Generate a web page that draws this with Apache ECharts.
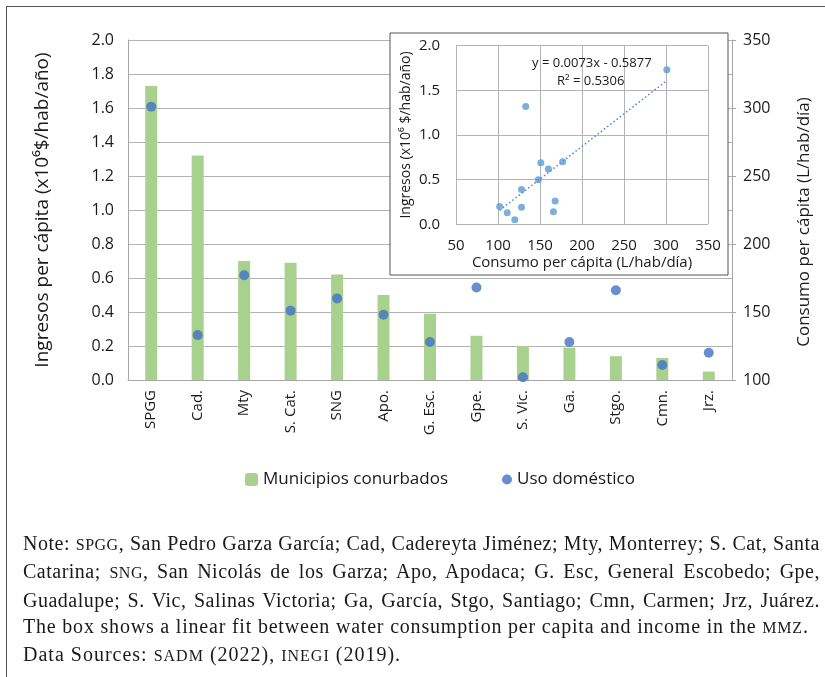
<!DOCTYPE html>
<html>
<head>
<meta charset="utf-8">
<script src="https://cdn.jsdelivr.net/npm/echarts@6/dist/echarts.min.js"></script>
<style>
  html, body { margin: 0; padding: 0; background: #fff; }
  #wrap { position: relative; width: 825px; height: 677px; overflow: hidden; }
  #chart { position: absolute; left: 0; top: 0; width: 825px; height: 677px; }
  #frame {
    position: absolute; left: 6px; top: 6px; width: 900px; height: 800px;
    border-left: 1.5px solid #555; border-top: 1.5px solid #555;
    pointer-events: none;
  }
  #note {
    position: absolute; left: 23px; top: 530px; width: 797px;
    font-family: "Liberation Serif", serif; font-size: 20px; color: #1a1a1a;
    line-height: 26.3px; letter-spacing: 0.5px;
  }
  #note .j { text-align: justify; text-align-last: justify; white-space: nowrap; }
  #note .l { white-space: nowrap; }
  .sc { font-size: 0.8em; }
</style>
</head>
<body>
<div id="wrap">
  <div id="chart"></div>
  <div id="frame"></div>
  <div id="note">
    <div class="j">Note: <span class="sc">SPGG</span>, San Pedro Garza García; Cad, Cadereyta Jiménez; Mty, Monterrey; S. Cat, Santa</div>
    <div class="j">Catarina; <span class="sc">SNG</span>, San Nicolás de los Garza; Apo, Apodaca; G. Esc, General Escobedo; Gpe,</div>
    <div class="j">Guadalupe; S. Vic, Salinas Victoria; Ga, García, Stgo, Santiago; Cmn, Carmen; Jrz, Juárez.</div>
    <div class="l" style="letter-spacing: 0.8px">The box shows a linear fit between water consumption per capita and income in the <span class="sc">MMZ</span>.</div>
    <div class="l" style="letter-spacing: 1px">Data Sources: <span class="sc">SADM</span> (2022), <span class="sc">INEGI</span> (2019).</div>
  </div>
</div>
<script>
// municipios (orden del gráfico)
const municipios = ["SPGG", "Cad.", "Mty", "S. Cat.", "SNG", "Apo.", "G. Esc.", "Gpe.", "S. Vic.", "Ga.", "Stgo.", "Cmn.", "Jrz."];
// ingresos per cápita (x10^6 $/hab/año)
const ingresos = [1.73, 1.32, 0.70, 0.69, 0.62, 0.50, 0.39, 0.26, 0.20, 0.19, 0.14, 0.13, 0.05];
// consumo per cápita (L/hab/día)
const consumo = [301, 133, 177, 151, 160, 148, 128, 168, 102, 128, 166, 111, 120];
// ajuste lineal mostrado en el recuadro
const pendiente = 0.0073;
const intercepto = -0.5877;
const r2 = 0.5306;

const FONT = "Open Sans";
const TXT = "#1a1a1a";
const GRID_C = "#b3b3b3";
const AXIS_C = "#a6a6a6";

const dispersion = consumo.map((c, i) => [c, ingresos[i]]);
const xMin = Math.min(...consumo);
const xMax = Math.max(...consumo);
const tendencia = [xMin, xMax].map((x) => [x, pendiente * x + intercepto]);

const legendText = { fontFamily: FONT, fontSize: 17, color: TXT };

const chart = echarts.init(document.getElementById("chart"));
chart.setOption({
  animation: false,
  textStyle: { fontFamily: FONT, color: TXT },
  grid: [
    { left: 128, right: 93, top: 40, bottom: 297 },
    { left: 456, right: 117, top: 45.7, bottom: 452.7, z: 3 },
  ],
  legend: [
    {
      data: ["Municipios conurbados"],
      left: 240,
      top: 466,
      itemWidth: 13,
      itemHeight: 13,
      itemGap: 5,
      textStyle: legendText,
    },
    {
      data: [{ name: "Uso doméstico", icon: "circle" }],
      left: 497,
      top: 466,
      itemWidth: 10,
      itemHeight: 10,
      textStyle: legendText,
    },
  ],
  graphic: [
    {
      type: "rect",
      z: 1,
      shape: { x: 390, y: 33, width: 338, height: 242 },
      style: { fill: "#fff", stroke: "#555", lineWidth: 1 },
    },
    {
      type: "text",
      z: 6,
      left: 532,
      top: 57,
      style: {
        text: "y = " + pendiente.toFixed(4) + "x - " + Math.abs(intercepto).toFixed(4),
        font: "13px 'Open Sans'",
        fill: TXT,
      },
    },
    {
      type: "text",
      z: 6,
      left: 557,
      top: 75,
      style: { text: "R² = " + r2.toFixed(4), font: "13px 'Open Sans'", fill: TXT },
    },
  ],
  xAxis: [
    {
      type: "category",
      gridIndex: 0,
      data: municipios,
      axisTick: { show: false },
      axisLine: { lineStyle: { color: AXIS_C } },
      axisLabel: { rotate: 90, fontSize: 15, color: TXT, margin: 10 },
    },
    {
      type: "value",
      gridIndex: 1,
      min: 50,
      max: 350,
      interval: 50,
      z: 3,
      axisTick: { show: false },
      axisLine: { show: false },
      splitLine: { lineStyle: { color: GRID_C } },
      axisLabel: { fontSize: 15, color: TXT, margin: 14 },
      name: "Consumo per cápita (L/hab/día)",
      nameLocation: "middle",
      nameGap: 31,
      nameTextStyle: { fontSize: 15, color: TXT },
    },
  ],
  yAxis: [
    {
      type: "value",
      gridIndex: 0,
      min: 0,
      max: 2,
      interval: 0.2,
      axisLine: { show: true, lineStyle: { color: AXIS_C } },
      axisTick: { show: false },
      splitLine: { lineStyle: { color: GRID_C } },
      axisLabel: { fontSize: 16, color: TXT, margin: 14, formatter: (v) => v.toFixed(1) },
      name: "Ingresos per cápita (x10⁶$/hab/año)",
      nameLocation: "middle",
      nameGap: 76,
      nameTextStyle: { fontSize: 19, color: TXT },
    },
    {
      type: "value",
      gridIndex: 0,
      position: "right",
      min: 100,
      max: 350,
      interval: 50,
      axisLine: { show: true, lineStyle: { color: AXIS_C } },
      axisTick: { show: true, length: 4, lineStyle: { color: AXIS_C } },
      splitLine: { show: false },
      axisLabel: { fontSize: 16, color: TXT, margin: 11 },
      name: "Consumo per cápita (L/hab/día)",
      nameLocation: "middle",
      nameGap: 64,
      nameTextStyle: { fontSize: 17, color: TXT, padding: [0, 24, 0, 0] },
    },
    {
      type: "value",
      gridIndex: 1,
      min: 0,
      max: 2,
      interval: 0.5,
      z: 3,
      axisLine: { show: false },
      axisTick: { show: false },
      splitLine: { lineStyle: { color: GRID_C } },
      axisLabel: { fontSize: 15, color: TXT, margin: 16, formatter: (v) => v.toFixed(1) },
      name: "Ingresos (x10⁶ $/hab/año)",
      nameLocation: "middle",
      nameGap: 43,
      nameTextStyle: { fontSize: 14, color: TXT },
    },
  ],
  series: [
    {
      name: "Municipios conurbados",
      type: "bar",
      xAxisIndex: 0,
      yAxisIndex: 0,
      data: ingresos,
      barWidth: 12,
      itemStyle: { color: "#a9d18e" },
    },
    {
      name: "Uso doméstico",
      type: "scatter",
      xAxisIndex: 0,
      yAxisIndex: 1,
      data: consumo,
      symbolSize: 10,
      itemStyle: { color: "#4472c4" },
    },
    {
      name: "Dispersión",
      type: "scatter",
      xAxisIndex: 1,
      yAxisIndex: 2,
      z: 5,
      data: dispersion,
      symbolSize: 7,
      itemStyle: { color: "#5b9bd5" },
    },
    {
      name: "Tendencia",
      type: "line",
      xAxisIndex: 1,
      yAxisIndex: 2,
      z: 4,
      data: tendencia,
      showSymbol: false,
      lineStyle: { color: "#4a86c8", width: 1.5, type: [1.5, 2.5] },
    },
  ],
});
</script>
</body>
</html>
